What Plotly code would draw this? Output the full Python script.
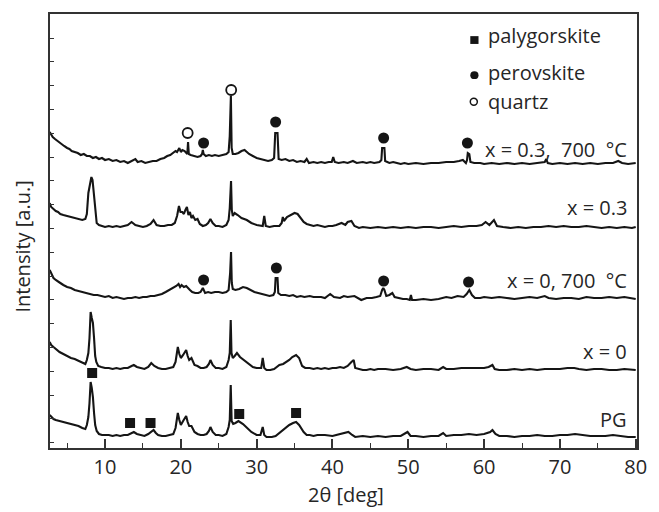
import plotly.graph_objects as go

# XRD patterns (2-theta in degrees, intensity in arbitrary units, stacked offsets)
pattern_x03_700 = [(2.7,316),(2.9,313),(3.1,311),(3.4,309),(3.7,307),(4.0,305),(4.3,303),(4.6,302),(5.0,300),(5.3,299),(5.6,297),(6.0,296),(6.4,295),(6.8,293),(7.2,294),(7.6,292),(8.0,292),(8.4,290),(8.8,291),(9.2,289),(9.6,290),(10.0,288),(10.5,289),(11.0,287),(11.5,288),(12.0,286),(12.5,287),(13.0,285),(13.5,287),(14.0,289),(14.3,286),(14.8,287),(15.3,285),(15.8,286),(16.3,287),(16.8,287),(17.3,289),(17.8,290),(18.2,292),(18.6,293),(19.0,295),(19.3,297),(19.5,296),(19.8,300),(20.0,296),(20.2,298),(20.5,297),(20.7,295),(20.85,294),(20.95,306),(21.05,294),(21.3,293),(21.7,292),(22.2,291),(22.6,292),(22.8,294),(22.9,298),(23.0,294),(23.3,292),(23.7,293),(24.1,292),(24.5,293),(25.0,292),(25.5,293),(26.0,294),(26.3,296),(26.45,312),(26.6,352),(26.7,300),(26.85,294),(27.2,294),(27.6,295),(28.0,297),(28.4,298),(28.7,296),(29.0,294),(29.5,292),(30.0,290),(30.5,289),(31.0,288),(31.5,287),(32.0,288),(32.3,290),(32.45,315),(32.75,315),(32.9,289),(33.3,288),(33.8,289),(34.3,287),(34.8,288),(35.3,286),(35.8,287),(36.3,286),(36.6,289),(36.9,285),(37.5,286),(38.0,285),(38.5,286),(39.0,285),(39.5,286),(39.9,286),(40.1,291),(40.3,286),(40.8,285),(41.5,286),(42.0,285),(42.7,287),(43.2,285),(44.0,286),(44.5,285),(45.0,286),(45.5,285),(46.2,286),(46.45,288),(46.55,300),(46.85,300),(46.95,287),(47.5,285),(48.0,286),(48.5,285),(49.0,284),(49.5,285),(50.0,284),(51.0,285),(52.0,284),(53.0,285),(54.0,285),(55.0,286),(56.0,286),(56.7,287),(57.2,288),(57.6,285),(57.75,288),(57.85,295),(58.05,294),(58.2,286),(58.7,285),(59.5,285),(60.0,284),(61.0,285),(62.0,284),(63.0,285),(64.0,284),(65.0,285),(66.0,284),(67.0,285),(68.0,286),(68.2,289),(68.4,285),(69.0,284),(70.0,285),(71.0,284),(72.0,285),(73.0,284),(74.0,285),(75.0,284),(76.0,285),(77.0,285),(77.7,287),(78.2,285),(79.0,284),(80.0,285)]

pattern_x03 = [(2.7,245),(2.9,241),(3.2,239),(3.5,237),(3.8,236),(4.1,234),(4.5,233),(5.0,232),(5.5,231),(6.0,230),(6.5,229),(7.0,228),(7.4,229),(7.6,234),(7.8,255),(8.0,262),(8.2,271),(8.35,268),(8.5,255),(8.7,235),(8.9,225),(9.2,223),(9.6,222),(10.0,221),(10.5,222),(11.0,221),(11.5,222),(12.0,221),(12.5,222),(13.0,223),(13.5,226),(14.0,223),(14.5,222),(15.0,221),(15.5,222),(16.0,224),(16.4,228),(16.8,223),(17.3,222),(17.8,222),(18.3,223),(18.8,223),(19.2,225),(19.5,232),(19.75,242),(19.95,236),(20.2,236),(20.4,234),(20.6,238),(20.8,241),(21.0,233),(21.2,236),(21.4,230),(21.6,232),(21.9,228),(22.2,229),(22.5,224),(22.9,222),(23.3,223),(23.6,225),(23.9,229),(24.2,225),(24.6,222),(25.0,222),(25.5,221),(26.0,223),(26.3,228),(26.45,240),(26.62,267),(26.72,238),(26.85,232),(27.1,235),(27.5,233),(28.0,230),(28.7,228),(29.3,225),(30.0,223),(30.5,222),(30.8,222),(31.0,232),(31.2,222),(31.7,221),(32.3,222),(33.0,222),(33.3,225),(33.45,231),(33.6,227),(34.0,231),(34.5,233),(35.0,235),(35.4,234),(35.8,230),(36.2,226),(36.6,224),(37.0,223),(37.5,222),(38.0,223),(38.5,222),(39.0,221),(39.5,222),(40.0,222),(40.5,223),(41.2,225),(41.7,223),(42.0,226),(42.5,227),(42.9,222),(43.5,220),(44.0,221),(45.0,220),(46.0,221),(47.0,220),(48.0,221),(49.0,220),(50.0,221),(51.0,220),(52.0,221),(53.0,221),(54.0,220),(55.0,221),(56.0,222),(57.0,221),(58.0,222),(59.0,222),(59.7,223),(60.2,226),(60.7,223),(61.3,228),(61.7,222),(62.5,221),(63.5,220),(64.5,221),(65.5,220),(66.5,221),(67.5,221),(68.5,222),(69.5,221),(70.5,222),(71.5,221),(72.5,221),(73.5,222),(74.5,221),(75.5,220),(76.5,221),(77.5,220),(78.5,221),(79.5,220),(80.0,221)]

pattern_x0_700 = [(2.7,178),(2.9,174),(3.2,170),(3.5,168),(3.8,166),(4.1,165),(4.5,163),(5.0,161),(5.5,160),(6.0,158),(6.5,157),(7.0,156),(7.5,155),(8.0,154),(8.5,153),(9.0,153),(9.5,152),(10.0,151),(10.5,152),(11.0,150),(11.5,151),(12.0,150),(12.5,149),(13.0,150),(13.5,150),(14.0,151),(14.5,150),(15.0,151),(15.5,151),(16.0,152),(16.5,152),(17.0,153),(17.5,154),(18.0,156),(18.5,158),(19.0,160),(19.4,162),(19.7,164),(19.9,161),(20.1,163),(20.4,161),(20.7,162),(20.9,160),(21.2,158),(21.5,156),(21.9,155),(22.3,155),(22.6,156),(22.9,160),(23.2,155),(23.6,156),(24.0,155),(24.5,156),(25.0,156),(25.5,155),(26.0,156),(26.3,158),(26.5,175),(26.62,196),(26.72,165),(26.85,159),(27.2,158),(27.7,159),(28.2,161),(28.7,160),(29.2,158),(29.7,156),(30.2,155),(30.7,154),(31.2,153),(31.7,152),(32.2,153),(32.4,156),(32.5,170),(32.75,170),(32.85,155),(33.2,153),(33.8,153),(34.3,152),(34.8,153),(35.3,151),(35.8,152),(36.3,151),(37.0,152),(37.5,151),(38.0,151),(38.5,151),(39.0,150),(39.7,154),(40.2,151),(41.0,150),(41.5,152),(42.0,151),(42.9,152),(43.8,148),(44.5,150),(45.2,150),(45.8,151),(46.3,152),(46.55,158),(46.7,160),(46.85,158),(47.1,152),(47.5,153),(47.9,155),(48.2,151),(48.7,150),(49.3,149),(49.8,149),(50.2,148),(50.35,153),(50.5,148),(51.0,148),(52.0,149),(53.0,148),(54.0,149),(55.0,151),(55.7,150),(56.5,152),(57.3,151),(57.7,154),(58.05,158),(58.4,153),(58.8,150),(59.5,150),(60.0,151),(61.0,150),(62.0,151),(63.0,150),(64.0,149),(65.0,150),(66.0,151),(67.0,150),(68.0,152),(68.5,150),(69.5,149),(70.5,150),(71.5,150),(72.5,149),(73.5,151),(74.5,150),(75.5,150),(76.5,151),(77.5,150),(78.5,151),(79.5,150),(80.0,149)]

pattern_x0 = [(2.7,106),(2.9,103),(3.2,101),(3.5,99),(4.0,96),(4.5,94),(5.0,92),(5.5,90),(6.0,89),(6.5,87),(7.0,85),(7.4,84),(7.6,88),(7.8,95),(7.95,110),(8.1,136),(8.25,130),(8.4,125),(8.55,110),(8.7,92),(8.85,86),(9.1,82),(9.5,81),(10.0,80),(10.5,80),(11.0,79),(11.5,80),(12.0,79),(12.5,80),(13.0,80),(13.5,82),(13.8,83),(14.2,81),(14.7,80),(15.2,79),(15.7,81),(16.1,85),(16.5,82),(17.0,80),(17.5,79),(18.0,79),(18.5,80),(19.0,81),(19.3,86),(19.6,101),(19.8,94),(20.0,90),(20.3,93),(20.5,96),(20.7,98),(20.9,92),(21.1,88),(21.4,90),(21.8,83),(22.2,82),(22.6,80),(23.0,80),(23.4,81),(23.7,84),(23.9,88),(24.2,83),(24.6,80),(25.0,80),(25.5,79),(26.0,81),(26.3,88),(26.45,95),(26.58,128),(26.68,95),(26.85,90),(27.1,92),(27.4,95),(27.8,91),(28.3,88),(28.7,86),(29.2,83),(29.5,81),(30.0,80),(30.6,80),(30.8,90),(31.0,80),(31.3,78),(31.8,78),(32.3,79),(33.0,83),(33.5,84),(33.9,86),(34.3,88),(34.7,91),(35.2,93),(35.6,90),(36.0,82),(36.4,80),(37.0,80),(37.5,79),(38.0,80),(38.5,79),(39.0,80),(39.5,79),(40.0,80),(40.5,80),(41.0,81),(41.5,80),(42.0,82),(42.5,86),(42.8,88),(43.0,80),(43.5,79),(44.0,78),(44.5,78),(45.0,79),(45.5,78),(46.0,79),(47.0,79),(48.0,78),(49.0,79),(49.8,81),(50.3,79),(51.0,78),(52.0,79),(53.0,79),(54.0,78),(54.6,81),(55.0,79),(56.0,79),(57.0,80),(58.0,80),(59.0,80),(60.0,80),(60.6,81),(61.1,83),(61.4,79),(62.0,78),(63.0,78),(64.0,79),(65.0,78),(66.0,79),(67.0,78),(68.0,79),(69.0,79),(70.0,79),(71.0,80),(71.9,80),(72.5,79),(73.5,78),(74.5,79),(75.5,79),(76.5,78),(77.5,78),(78.5,79),(79.5,78),(80.0,78)]

pattern_pg = [(2.7,33),(2.9,31),(3.2,29),(3.5,28),(4.0,27),(4.5,26),(5.0,25),(5.5,24),(6.0,23),(6.5,22),(7.0,20),(7.4,19),(7.6,23),(7.8,31),(7.95,45),(8.1,66),(8.25,60),(8.4,51),(8.55,35),(8.7,23),(8.9,17),(9.2,14),(9.6,13),(10.0,13),(10.5,13),(11.0,12),(11.5,13),(12.0,12),(12.5,13),(13.0,13),(13.5,15),(13.8,16),(14.2,14),(14.7,13),(15.2,12),(15.7,14),(16.2,17),(16.4,18),(16.7,15),(17.0,13),(17.5,12),(18.0,12),(18.5,13),(19.0,14),(19.3,20),(19.6,35),(19.8,28),(20.0,23),(20.3,27),(20.5,30),(20.7,32),(20.9,26),(21.1,22),(21.4,22),(21.8,16),(22.2,14),(22.6,13),(23.0,13),(23.4,14),(23.7,17),(23.9,21),(24.2,16),(24.6,13),(25.0,13),(25.5,12),(26.0,14),(26.3,21),(26.45,28),(26.58,63),(26.7,27),(26.9,24),(27.2,25),(27.6,27),(28.2,24),(28.7,20),(29.3,16),(30.0,13),(30.5,13),(30.8,21),(31.0,13),(31.3,11),(32.0,11),(32.5,12),(33.0,15),(33.4,18),(33.9,21),(34.3,23),(34.8,25),(35.2,26),(35.6,23),(36.2,16),(36.6,13),(37.0,13),(37.5,12),(38.0,13),(39.0,13),(40.0,12),(40.5,13),(41.0,14),(41.5,15),(42.1,16),(42.6,13),(43.0,11),(44.0,12),(45.0,11),(46.0,12),(47.0,11),(48.0,12),(49.0,12),(49.9,16),(50.3,12),(51.0,12),(52.0,11),(53.0,12),(54.0,12),(54.6,15),(55.0,12),(56.0,13),(57.0,13),(58.0,14),(59.0,13),(60.0,14),(60.8,16),(61.1,18),(61.5,14),(62.0,12),(63.0,12),(64.0,11),(65.0,12),(66.0,12),(67.0,13),(68.0,12),(69.0,12),(70.0,13),(71.0,13),(72.0,14),(73.0,13),(74.0,12),(75.0,12),(76.0,12),(77.0,13),(78.0,12),(79.0,11),(80.0,11)]

# Phase markers placed above the identified reflections
palygorskite_marks = [(8.3,75),(13.3,25),(16.0,25),(27.7,34),(35.2,35)]
perovskite_marks = [(23.0,305),(32.5,326),(46.75,310),(57.8,305),(23.0,168),(32.6,180),(46.75,167),(57.95,166)]
quartz_marks = [(20.9,315),(26.64,358)]

# Sample labels and their vertical positions (paper fraction)
sample_labels = ["x = 0.3,  700  °C", "x = 0.3", "x = 0, 700  °C", "x = 0", "PG"]
label_y = [0.688, 0.553, 0.387, 0.223, 0.066]

legend_names = ["palygorskite", "perovskite", "quartz"]

INK = "#151515"
TEXT = "#262626"
FONT = "Open Sans"

fig = go.Figure()

for pat in [pattern_x03_700, pattern_x03, pattern_x0_700, pattern_x0, pattern_pg]:
    xs = [p[0] for p in pat]
    ys = [p[1] for p in pat]
    fig.add_trace(go.Scatter(x=xs, y=ys, mode="lines",
                             line=dict(color=INK, width=2.1),
                             showlegend=False, hoverinfo="skip"))

fig.add_trace(go.Scatter(x=[p[0] for p in palygorskite_marks], y=[p[1] for p in palygorskite_marks],
                         mode="markers", marker=dict(symbol="square", size=10, color=INK),
                         showlegend=False))
fig.add_trace(go.Scatter(x=[p[0] for p in perovskite_marks], y=[p[1] for p in perovskite_marks],
                         mode="markers", marker=dict(symbol="circle", size=11, color=INK),
                         showlegend=False))
fig.add_trace(go.Scatter(x=[p[0] for p in quartz_marks], y=[p[1] for p in quartz_marks],
                         mode="markers",
                         marker=dict(symbol="circle-open", size=10, color=INK, line=dict(width=1.8)),
                         showlegend=False))

annotations = []
for txt, yy in zip(sample_labels, label_y):
    annotations.append(dict(text=txt, x=0.987, y=yy, xref="paper", yref="paper",
                            xanchor="right", yanchor="middle", showarrow=False,
                            font=dict(family=FONT, size=20, color=TEXT)))

# legend block
leg_y = [0.950, 0.866, 0.798]
for name, yy in zip(legend_names, leg_y):
    annotations.append(dict(text=name, x=0.742, y=yy, xref="paper", yref="paper",
                            xanchor="left", yanchor="middle", showarrow=False,
                            font=dict(family=FONT, size=20, color=TEXT)))

annotations.append(dict(text="Intensity [a.u.]", x=-0.047, y=0.465, xref="paper", yref="paper",
                        textangle=-90, xanchor="center", yanchor="middle", showarrow=False,
                        font=dict(family=FONT, size=20, color=TEXT)))
annotations.append(dict(text="2θ [deg]", x=0.504, y=-0.108, xref="paper", yref="paper",
                        xanchor="center", yanchor="middle", showarrow=False,
                        font=dict(family=FONT, size=20, color=TEXT)))

shapes = [
    dict(type="rect", xref="paper", yref="paper", x0=0.716, x1=0.730, y0=0.931, y1=0.949,
         fillcolor=INK, line=dict(width=0)),
    dict(type="circle", xref="paper", yref="paper", x0=0.716, x1=0.730, y0=0.850, y1=0.868,
         fillcolor=INK, line=dict(width=0)),
    dict(type="circle", xref="paper", yref="paper", x0=0.716, x1=0.728, y0=0.790, y1=0.806,
         fillcolor="white", line=dict(color=INK, width=1.5)),
]

fig.update_layout(
    width=659, height=512,
    margin=dict(l=50, r=12, t=14, b=64),
    plot_bgcolor="white", paper_bgcolor="white",
    font=dict(family=FONT, size=20, color=TEXT),
    annotations=annotations, shapes=shapes, showlegend=False,
)
fig.update_xaxes(range=[2.74, 80.17], showgrid=False, zeroline=False,
                 showline=True, linecolor="#333", linewidth=1.5, mirror=True,
                 ticks="inside", ticklen=9, tickwidth=1.5, tickcolor="#333",
                 tick0=0, dtick=10,
                 minor=dict(ticks="inside", ticklen=5, tickwidth=1.2, tickcolor="#333", dtick=5),
                 tickfont=dict(family=FONT, size=20, color=TEXT))
fig.update_yaxes(range=[0, 434], showgrid=False, zeroline=False,
                 showline=True, linecolor="#333", linewidth=1.5, mirror=True,
                 ticks="inside", ticklen=4, tickwidth=1.2, tickcolor="#333",
                 tick0=5.3, dtick=23.8, showticklabels=False)

fig.write_html("out.html")
